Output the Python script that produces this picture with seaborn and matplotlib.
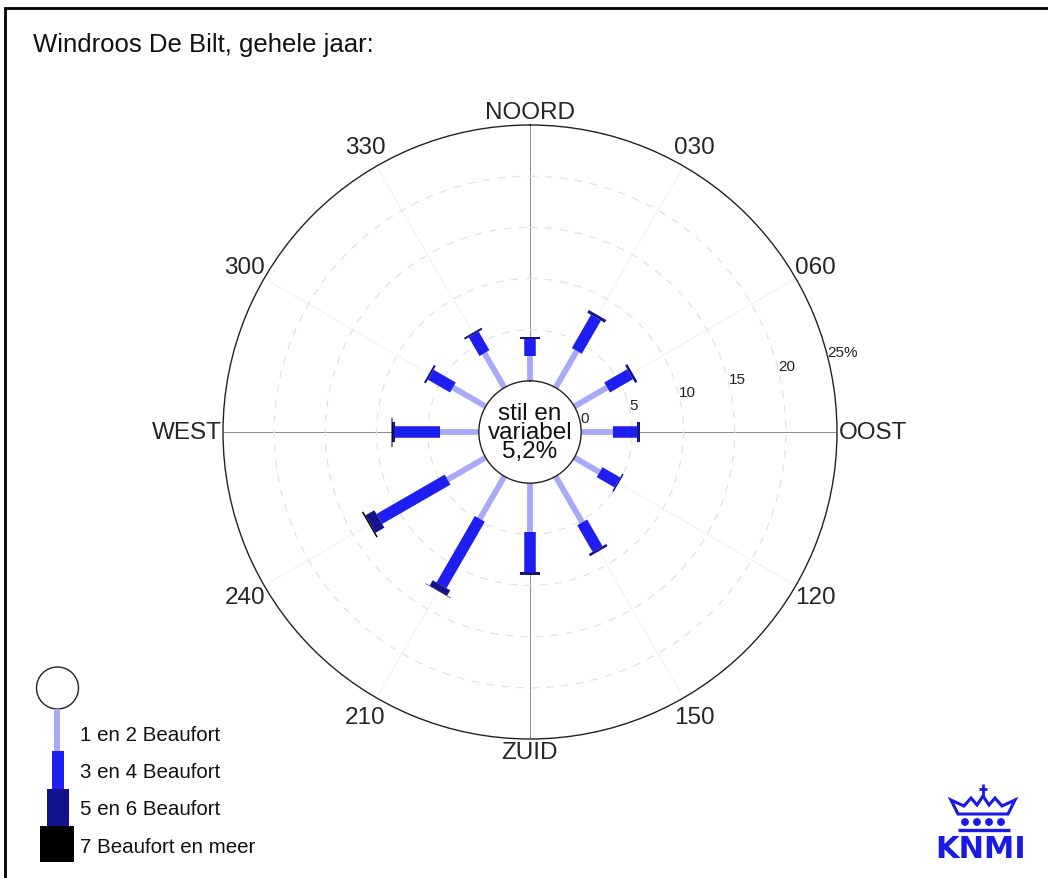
import numpy as np
import pandas as pd
import matplotlib
matplotlib.use('Agg')
import matplotlib.pyplot as plt
import seaborn as sns
from matplotlib.patches import Rectangle, Circle, Polygon

# windrichtingen (graden) en percentages per Beaufort-klasse
richtingen = [0, 30, 60, 90, 120, 150, 180, 210, 240, 270, 300, 330]
bft_1_2 = [2.45, 4.15, 3.7, 3.1, 2.85, 5.2, 4.8, 4.8, 4.3, 3.8, 3.7, 3.9]
bft_3_4 = [1.65, 3.75, 2.6, 2.4, 2.0, 3.0, 3.9, 7.5, 7.7, 4.4, 2.5, 2.1]
bft_5_6 = [0.15, 0.3, 0.25, 0.25, 0.15, 0.25, 0.3, 0.6, 1.0, 0.3, 0.2, 0.2]
bft_7 = [0, 0, 0, 0, 0, 0, 0, 0.05, 0.15, 0.05, 0, 0]
stil_variabel = 5.2

klassen = ['1 en 2 Beaufort', '3 en 4 Beaufort', '5 en 6 Beaufort', '7 Beaufort en meer']
richting_labels = ['NOORD', '030', '060', 'OOST', '120', '150',
                   'ZUID', '210', '240', 'WEST', '300', '330']
ring_waarden = [0, 5, 10, 15, 20, 25]
ring_labels = ['0', '5', '10', '15', '20', '25%']

kleuren = dict(zip(klassen, ['#a9a9f7', '#1e1ef0', '#13138c', '#000000']))
dikte = dict(zip(klassen, [4.2, 8.3, 14.5, 21.0]))

sns.set_theme(style='white')
plt.rcParams['font.family'] = ['Liberation Sans', 'DejaVu Sans']
plt.rcParams['lines.solid_capstyle'] = 'butt'

# segmenten opbouwen (gestapeld langs de straal)
rijen = []
for i, hoek in enumerate(richtingen):
    start = 0.0
    for klasse, waarden in zip(klassen, [bft_1_2, bft_3_4, bft_5_6, bft_7]):
        v = waarden[i]
        if v > 0:
            seg = f'{hoek}-{klasse}'
            rijen.append(dict(seg=seg, klasse=klasse, theta=np.deg2rad(hoek), r=start))
            rijen.append(dict(seg=seg, klasse=klasse, theta=np.deg2rad(hoek), r=start + v))
        start += v
df = pd.DataFrame(rijen)

W, H = 1048, 879
fig = plt.figure(figsize=(W / 100, H / 100), dpi=100)
fig.patch.set_facecolor('white')

cx, cy, R = 530, 433, 307
ax = fig.add_axes([(cx - R) / W, 1 - (cy + R) / H, 2 * R / W, 2 * R / H], projection='polar')
ax.set_theta_zero_location('N')
ax.set_theta_direction(-1)
ax.set_ylim(0, 25)
ax.set_rorigin(-5)

ax.set_xticks(np.deg2rad(richtingen))
ax.set_xticklabels([])
ax.set_yticks([5, 10, 15, 20])
ax.set_yticklabels([])
ax.tick_params(length=0)
ax.yaxis.grid(True, color='#e2e2e2', linestyle=(0, (6, 6)), linewidth=0.9)
ax.xaxis.grid(True, linewidth=0.7)
for k, gl in enumerate(ax.xaxis.get_gridlines()):
    if richtingen[k] % 90 == 0:
        gl.set_color('#8a8a8a')
    else:
        gl.set_color('#f0f0f0')
ax.spines['polar'].set_color('#222222')
ax.spines['polar'].set_linewidth(1.0)
ax.spines['inner'].set_color('#222222')
ax.spines['inner'].set_linewidth(1.0)

sns.lineplot(data=df, x='theta', y='r', hue='klasse', size='klasse', units='seg',
             estimator=None, sort=False, palette=kleuren, sizes=dikte,
             hue_order=klassen, size_order=klassen, legend=False,
             solid_capstyle='butt', ax=ax)
ax.set_xlabel('')
ax.set_ylabel('')
ax.set_ylim(0, 25)

# richtingslabels
for hoek, lab in zip(richtingen, richting_labels):
    t = np.deg2rad(hoek)
    if hoek == 90:
        ax.text(t, 25.15, lab, ha='left', va='center', fontsize=17.5, clip_on=False)
    elif hoek == 270:
        ax.text(t, 25.15, lab, ha='right', va='center', fontsize=17.5, clip_on=False)
    elif hoek in (0, 180):
        ax.text(t, 26.3, lab, ha='center', va='center', fontsize=17.5, clip_on=False)
    else:
        ax.text(t, 27.2, lab, ha='center', va='center', fontsize=17.5, clip_on=False)

# ringlabels
for v, lab in zip(ring_waarden, ring_labels):
    ax.text(np.deg2rad(75), v + 0.1, lab, ha='left', va='center',
            fontsize=11, color='#222222', clip_on=False)

stil_txt = 'stil en\nvariabel\n' + f'{stil_variabel:.1f}%'.replace('.', ',')
ax.text(0.5, 0.5, stil_txt, transform=ax.transAxes, ha='center', va='center',
        fontsize=17.5, linespacing=0.8, color='#111111')

# overlay voor titel, legenda, kader en logo (pixelcoordinaten)
ov = fig.add_axes([0, 0, 1, 1])
ov.set_xlim(0, W)
ov.set_ylim(H, 0)
ov.axis('off')
ov.patch.set_alpha(0)

ov.plot([5, 5, W], [H, 9, 9], color='black', lw=2.0, solid_joinstyle='miter')
ov.text(33, 45, 'Windroos De Bilt, gehele jaar:', fontsize=18.5, va='center', color='#111111')

# legenda
ov.add_patch(Circle((57.5, 689), 21, facecolor='white', edgecolor='#222222', lw=1.0))
leg_x = [54, 52, 47, 40]
leg_w = [6, 12, 22, 34]
leg_y = [710, 752, 790, 827]
leg_h = [42, 38, 37, 36]
for klasse, x0, w0, y0, h0 in zip(klassen, leg_x, leg_w, leg_y, leg_h):
    ov.add_patch(Rectangle((x0, y0), w0, h0, facecolor=kleuren[klasse], edgecolor='none'))
for klasse, ty in zip(klassen, [736, 773, 810, 848]):
    ov.text(80, ty, klasse, fontsize=14.8, va='center', color='#111111')

# KNMI logo
blauw = '#1a1ae6'
ov.text(981, 850, 'KNMI', fontsize=22, color=blauw, ha='center', va='center',
        family='DejaVu Sans', weight='bold')
kroon = [(958, 815), (951, 801), (964, 807), (971, 799), (977, 806), (983, 797),
         (989, 806), (995, 799), (1002, 807), (1015, 801), (1008, 815)]
ov.add_patch(Polygon(kroon, closed=True, facecolor='none', edgecolor=blauw, lw=2.2))
ov.plot([983, 983], [785, 797], color=blauw, lw=2)
ov.plot([979, 987], [790, 790], color=blauw, lw=2)
for dx in [965, 977, 989, 1001]:
    ov.add_patch(Circle((dx, 823), 3.2, color=blauw))
ov.plot([958, 1010], [831, 831], color=blauw, lw=2.4)

fig.savefig('out.png', dpi=100)
